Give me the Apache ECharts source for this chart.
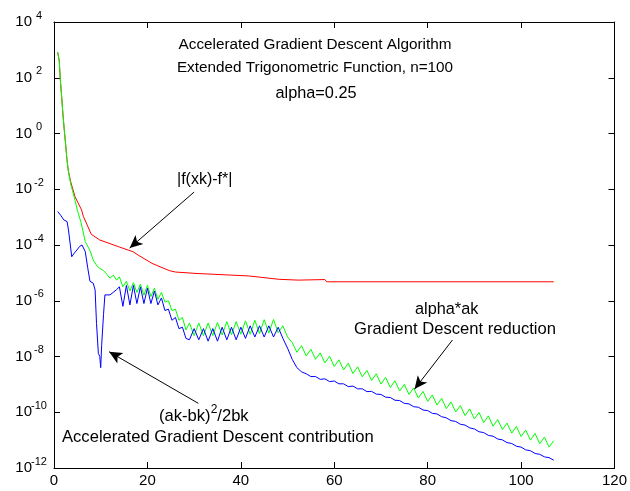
<!DOCTYPE html>
<html><head><meta charset="utf-8">
<script src="https://cdn.jsdelivr.net/npm/echarts@6/dist/echarts.min.js"></script>
<style>html,body{margin:0;padding:0;background:#fff}#c{width:630px;height:491px}</style>
</head><body><div id="c"></div>
<script>
// x axis: iteration; y axis: log10 of the plotted quantity (axis labelled 10^n)
const xMin = 0, xMax = 120, xStep = 20;
const yMin = -12, yMax = 4, yStep = 2;

const titleLines = ['Accelerated Gradient Descent Algorithm', 'Extended Trigonometric Function, n=100', 'alpha=0.25'];

// |f(xk)-f*|  (red)  [x, log10 value]
const redData = [[0.8,2.91],[1.13,2.59],[1.34,1.97],[1.64,1.32],[1.91,0.70],[2.19,0.15],[2.49,-0.39],[2.77,-0.93],[3.04,-1.31],[3.34,-1.55],[3.62,-1.76],[3.89,-1.91],[4.5,-2.27],[5.9,-2.74],[6.3,-2.98],[8.0,-3.62],[9.8,-3.82],[13.8,-4.06],[16.9,-4.24],[18,-4.36],[21,-4.66],[24.7,-4.92],[26,-4.97],[30.4,-5.02],[41.7,-5.11],[48.1,-5.23],[52.3,-5.26],[58,-5.24],[58.4,-5.32],[107,-5.32]];

// alpha*ak (green)
const greenData = [[0.8,2.91],[1.13,2.59],[1.34,1.97],[1.64,1.32],[1.91,0.70],[2.19,0.15],[2.49,-0.39],[2.77,-0.93],[3.04,-1.31],[3.34,-1.6],[3.62,-1.85],[3.89,-2.0],[4.5,-2.4],[5.0,-2.75],[5.8,-3.2],[6.7,-3.88],[7.7,-4.2],[8.4,-4.54],[9.2,-4.75],[9.8,-4.84],[10.6,-4.92],[11.3,-5.05],[12.0,-5.19],[12.7,-5.08],[13.4,-5.26],[14.0,-5.14],[14.75,-5.5],[15.5,-5.3],[16.25,-5.65],[17.0,-5.35],[17.75,-5.7],[18.5,-5.4],[19.25,-5.8],[20.0,-5.45],[20.75,-5.85],[21.5,-5.55],[22.25,-5.95],[23.0,-5.7],[23.75,-6.05],[24.5,-6.0],[25.25,-6.35],[26.0,-6.3],[26.75,-6.7],[27.5,-6.6],[28.25,-7.05],
[29,-6.8],[30,-7.25],[31,-6.8],[32,-7.25],[33,-6.8],[34,-7.25],[35,-6.78],[36,-7.23],[37,-6.75],[38,-7.22],[39,-6.75],[40,-7.2],[41,-6.72],[42,-7.2],[43,-6.7],[44,-7.18],[45,-6.68],[46,-7.16],[47,-6.67],[48,-7.15],[49,-6.9],[50,-7.3],[51,-7.5],[52,-7.85],
[53,-7.61],[54,-7.98],[55,-7.74],[56,-8.10],[57,-7.87],[58,-8.23],[59,-7.99],[60,-8.36],[61,-8.12],[62,-8.48],[63,-8.24],[64,-8.61],[65,-8.37],[66,-8.73],[67,-8.50],[68,-8.86],[69,-8.62],[70,-8.99],[71,-8.75],[72,-9.11],[73,-8.87],[74,-9.24],[75,-9.00],[76,-9.36],[77,-9.13],[78,-9.49],[79,-9.25],[80,-9.61],[81,-9.38],[82,-9.74],[83,-9.50],[84,-9.87],[85,-9.63],[86,-9.99],[87,-9.76],[88,-10.12],[89,-9.88],[90,-10.24],[91,-10.01],[92,-10.37],[93,-10.13],[94,-10.50],[95,-10.26],[96,-10.62],[97,-10.39],[98,-10.75],[99,-10.51],[100,-10.87],[101,-10.64],[102,-11.00],[103,-10.76],[104,-11.13],[105,-10.89],[106,-11.25],[107,-11.02]];

// (ak-bk)^2/2bk (blue)
const blueData = [[0.8,-2.8],[1.5,-2.95],[2.1,-3.1],[2.8,-3.16],[3.1,-3.46],[3.8,-4.42],[4.3,-4.3],[4.9,-4.18],[5.5,-4.05],[6.0,-4.0],[6.7,-4.24],[7.2,-4.8],[7.7,-5.3],[8.4,-5.37],[8.8,-5.61],[9.1,-6.81],[9.5,-7.89],[9.8,-8.0],[10.0,-8.4],[10.2,-7.6],[10.6,-6.5],[10.9,-5.79],[12.0,-5.79],[13.4,-5.6],[14.0,-5.5],[14.75,-6.2],[15.5,-5.45],[16.25,-6.15],[17.0,-5.45],[17.75,-6.1],[18.5,-5.5],[19.25,-6.1],[20.0,-5.55],[20.75,-6.1],[21.5,-5.65],[22.25,-6.15],[23.0,-5.9],[23.75,-6.35],[24.5,-6.3],[25.25,-6.7],[26.0,-6.6],[26.75,-7.0],[27.5,-6.95],[28.25,-7.35],
[29,-7.4],[30,-7.0],[31,-7.4],[32,-7.0],[33,-7.45],[34,-7.0],[35,-7.45],[36,-6.95],[37,-7.4],[38,-6.95],[39,-7.4],[40,-6.95],[41,-7.35],[42,-6.9],[43,-7.3],[44,-6.9],[45,-7.3],[46,-6.9],[47,-7.3],[48,-6.95],[49,-7.35],[50,-7.7],[51,-8.1],[52,-8.4],[53,-8.55],
[54,-8.62],[55,-8.72],[56,-8.72],[57,-8.82],[58,-8.80],[59,-8.90],[60,-8.88],[61,-8.98],[62,-8.98],[63,-9.08],[64,-9.06],[65,-9.16],[66,-9.16],[67,-9.26],[68,-9.25],[69,-9.35],[70,-9.36],[71,-9.46],[72,-9.47],[73,-9.57],[74,-9.58],[75,-9.68],[76,-9.70],[77,-9.80],[78,-9.82],[79,-9.92],[80,-9.94],[81,-10.04],[82,-10.06],[83,-10.16],[84,-10.20],[85,-10.30],[86,-10.33],[87,-10.43],[88,-10.46],[89,-10.56],[90,-10.60],[91,-10.70],[92,-10.73],[93,-10.83],[94,-10.86],[95,-10.96],[96,-10.99],[97,-11.09],[98,-11.12],[99,-11.22],[100,-11.25],[101,-11.35],[102,-11.38],[103,-11.48],[104,-11.51],[105,-11.60],[106,-11.63],[107,-11.72]];

// annotation arrows, [from, to] in data coords
const arrows = [
  [[30.0,-2.10],[16.2,-4.11]],
  [[85.3,-7.41],[77.2,-9.17]],
  [[30.9,-9.68],[11.8,-7.83]]
];

const FONT = '"Liberation Sans", Arial, Helvetica, sans-serif';
const chart = echarts.init(document.getElementById('c'), null, {renderer:'canvas'});

function txt(text, x, y, align, size) {
  return {type:'text', silent:true, style:{text:text, x:x, y:y, font:size + 'px ' + FONT, fill:'#000',
    textAlign:align, textVerticalAlign:'middle', align:align, verticalAlign:'middle'}};
}

const axisCommon = {
  axisLine:{show:true, onZero:false, lineStyle:{color:'#000', width:1}},
  axisTick:{show:true, inside:true, length:6, lineStyle:{color:'#000', width:1}},
  splitLine:{show:false}
};

const option = {
  animation:false,
  backgroundColor:'#fff',
  grid:{left:54, top:22, right:12, bottom:23, containLabel:false},
  xAxis:[
    Object.assign({type:'value', min:xMin, max:xMax, interval:xStep, position:'bottom',
      axisLabel:{show:true, color:'#000', fontSize:15, fontFamily:FONT, margin:5}}, axisCommon),
    Object.assign({type:'value', min:xMin, max:xMax, interval:xStep, position:'top',
      axisLabel:{show:false}}, axisCommon)
  ],
  yAxis:[
    Object.assign({type:'value', min:yMin, max:yMax, interval:yStep, position:'left',
      axisLabel:{show:true, margin:8, color:'#000',
        formatter: v => '{b|10}{s|' + v + '}',
        rich:{
          b:{fontSize:15, fontFamily:FONT, color:'#000'},
          s:{fontSize:11, fontFamily:FONT, color:'#000', width:14, align:'left', padding:[0,0,13,0]}
        }}}, axisCommon),
    Object.assign({type:'value', min:yMin, max:yMax, interval:yStep, position:'right',
      axisLabel:{show:false}}, axisCommon)
  ],
  series:[
    {type:'line', name:'red', data:redData, showSymbol:false, symbol:'none', lineStyle:{color:'#ff0000', width:1}, z:2,
      markLine:{silent:true, animation:false, symbol:['none','arrow'], symbolSize:[9,13],
        lineStyle:{color:'#000', width:1, type:'solid'}, label:{show:false},
        data: arrows.map(a => [{coord:a[0]}, {coord:a[1]}])}},
    {type:'line', name:'green', data:greenData, showSymbol:false, symbol:'none', lineStyle:{color:'#00ff00', width:1}, z:3},
    {type:'line', name:'blue', data:blueData, showSymbol:false, symbol:'none', lineStyle:{color:'#0000ff', width:1}, z:4}
  ],
  graphic:[
    txt(titleLines[0], 315, 45, 'center', 15.3),
    txt(titleLines[1], 315, 68, 'center', 15.3),
    txt(titleLines[2], 316, 94, 'center', 16.3),
    txt('|f(xk)-f*|', 177, 180, 'left', 16),
    txt('alpha*ak', 415, 310, 'left', 16.3),
    txt('Gradient Descent reduction', 354, 329, 'left', 16.6),
    {type:'text', silent:true, style:{text:'{a|(ak-bk)}{s|2}{a|/2bk}', x:159, y:416, fill:'#000',
      textAlign:'left', textVerticalAlign:'middle', align:'left', verticalAlign:'middle',
      rich:{a:{fontSize:16.6, fontFamily:FONT, fill:'#000', color:'#000'},
            s:{fontSize:12, fontFamily:FONT, fill:'#000', color:'#000', padding:[0,0,12,0]}}}},
    txt('Accelerated Gradient Descent contribution', 62, 437, 'left', 16.6)
  ]
};
chart.setOption(option);
</script>
</body></html>
